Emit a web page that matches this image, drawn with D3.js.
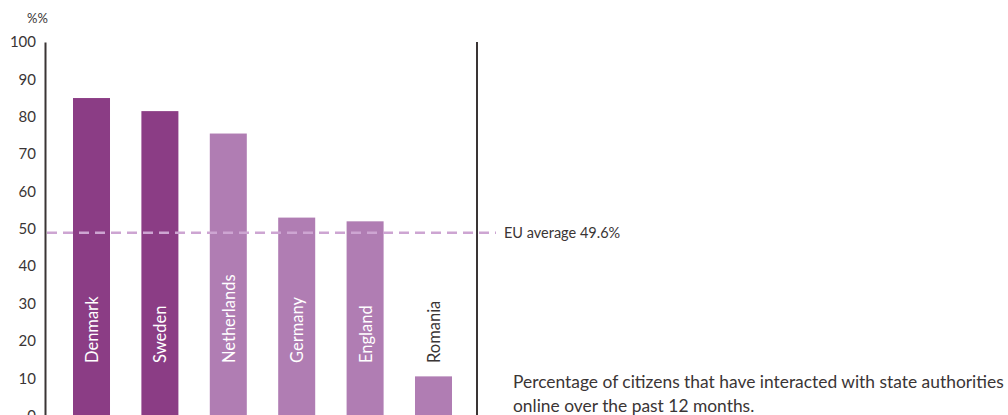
<!doctype html>
<html lang="en">
<head>
<meta charset="UTF-8">
<title>Online interaction with state authorities</title>
<script src="https://d3js.org/d3.v7.min.js"></script>
<style>
  body { margin: 0; background: #fff; }
  svg { display: block; font-family: "Lato", "Open Sans", sans-serif; }
</style>
</head>
<body>
<script>
var countries = ["Denmark", "Sweden", "Netherlands", "Germany", "England", "Romania"];
var values = [85, 81.5, 75.5, 53, 52, 10.5];
var highlight = [true, true, false, false, false, false];
var yTicks = [0, 10, 20, 30, 40, 50, 60, 70, 80, 90, 100];
var euAverage = 49.6;

var width = 1008, height = 415;

var svg = d3.select("body").append("svg")
    .attr("width", width)
    .attr("height", height);

var y = d3.scaleLinear().domain([0, 100]).range([415.6, 42]);
var x = d3.scaleBand().domain(countries).range([73, 452]).paddingInner(0.459).paddingOuter(0);

// bars
svg.selectAll("rect.bar")
    .data(countries)
    .enter()
    .append("rect")
        .attr("class", "bar")
        .attr("x", function(d) { return x(d); })
        .attr("width", x.bandwidth())
        .attr("y", function(d, i) { return y(values[i]); })
        .attr("height", function(d, i) { return y(0) - y(values[i]); })
        .attr("fill", function(d, i) { return highlight[i] ? "#8b3d85" : "#b07db3"; });

// country labels, white inside the tall bars, dark above the short one
svg.selectAll("text.country")
    .data(countries)
    .enter()
    .append("text")
        .attr("class", "country")
        .attr("transform", function(d) {
            return "translate(" + (x(d) + x.bandwidth() / 2 + 6.5) + ",363)rotate(-90)";
        })
        .attr("font-size", 16.5)
        .attr("fill", function(d, i) { return values[i] > 30 ? "#fff" : "#3a3535"; })
        .text(function(d) { return d; });

// left axis
var axis = svg.append("g")
    .attr("transform", "translate(45,0)")
    .call(d3.axisLeft(y).tickValues(yTicks).tickSize(0).tickPadding(9));
axis.select(".domain").attr("stroke", "#3a3535").attr("stroke-width", 2);
axis.selectAll("text")
    .attr("font-size", 15)
    .attr("font-family", "Lato, sans-serif")
    .attr("fill", "#3a3535");

svg.append("text")
    .attr("x", 27)
    .attr("y", 23)
    .attr("font-size", 13)
    .attr("fill", "#3a3535")
    .text("%%");

// right divider
svg.append("line")
    .attr("x1", 477).attr("x2", 477)
    .attr("y1", y(100)).attr("y2", y(0))
    .attr("stroke", "#3a3535")
    .attr("stroke-width", 2);

// EU average
svg.append("line")
    .attr("x1", 47).attr("x2", 496)
    .attr("y1", y(euAverage) + 2.5).attr("y2", y(euAverage) + 2.5)
    .attr("stroke", "#cda5d2")
    .attr("stroke-width", 2.5)
    .attr("stroke-dasharray", "10,6");

svg.append("text")
    .attr("x", 504)
    .attr("y", y(euAverage) + 8)
    .attr("font-size", 14.5)
    .attr("fill", "#3a3535")
    .text("EU average 49.6%");

// caption
var caption = svg.append("text")
    .attr("x", 513)
    .attr("y", 388)
    .attr("font-size", 17.4)
    .attr("fill", "#3a3535");
caption.append("tspan").attr("x", 513).attr("dy", 0)
    .text("Percentage of citizens that have interacted with state authorities");
caption.append("tspan").attr("x", 513).attr("dy", 24)
    .text("online over the past 12 months.");
</script>
</body>
</html>
